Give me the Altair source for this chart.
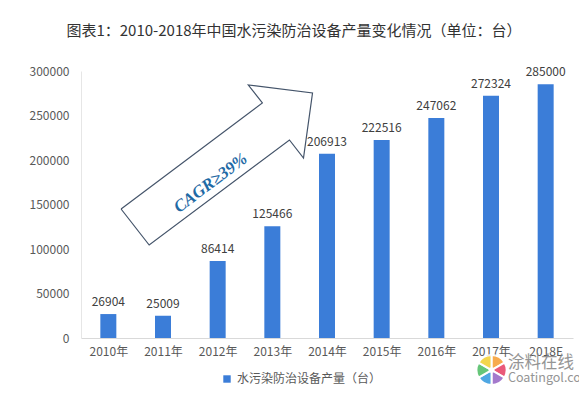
import altair as alt
import pandas as pd

years = ["2010年", "2011年", "2012年", "2013年", "2014年", "2015年", "2016年", "2017年", "2018E"]
values = [26904, 25009, 86414, 125466, 206913, 222516, 247062, 272324, 285000]
series_name = "水污染防治设备产量（台）"

# arrow outline in (category-position, value) units
arrow_u = [0.733, 1.247, 3.813, 4.07, 4.235, 3.061, 3.318, 0.733]
arrow_v = [144944, 104494, 222472, 202247, 275281, 284270, 264045, 144944]

# watermark pinwheel petals
petal_colors = ["#f7a23b", "#e8486b", "#9b6bc7", "#3d9ee0", "#56c06b", "#f3d23a"]

df = pd.DataFrame({"year": years, "pos": [i + 0.5 for i in range(len(years))],
                   "value": values, "series": [series_name] * len(years)})
arrow_df = pd.DataFrame({"u": arrow_u, "v": arrow_v, "order": list(range(len(arrow_u)))})

W, H = 492, 267
FONT = "Noto Sans CJK SC"
label_expr = "[" + ",".join("'%s'" % y for y in years) + "][floor(datum.value)]"

xs = alt.Scale(domain=[0, 9], nice=False, zero=False, padding=0)
ys = alt.Scale(domain=[0, 300000], nice=False, padding=0)

bars = alt.Chart(df).mark_bar(size=16).encode(
    x=alt.X("pos:Q", scale=xs, title=None,
            axis=alt.Axis(values=[i + 0.5 for i in range(len(years))], labelExpr=label_expr,
                          labelAngle=0, labelFontSize=12, labelColor="#595959", ticks=False, grid=False,
                          domainColor="#d9d9d9", labelPadding=8, labelFont=FONT)),
    y=alt.Y("value:Q", title=None, scale=ys,
            axis=alt.Axis(values=[0, 50000, 100000, 150000, 200000, 250000, 300000], grid=False, ticks=False,
                          domain=True, domainColor="#e6e6e6", labelFontSize=12, labelColor="#595959",
                          labelPadding=12, format="d", labelFont=FONT)),
    color=alt.Color("series:N", scale=alt.Scale(range=["#3b7dd8"]),
                    legend=alt.Legend(title=None, orient="none", legendX=140, legendY=302,
                                      symbolType="square", symbolSize=55, labelFontSize=12,
                                      labelColor="#595959", labelFont=FONT)),
)
labels = alt.Chart(df).mark_text(dy=-12, fontSize=12, color="#404040", font=FONT).encode(
    x=alt.X("pos:Q", scale=xs), y=alt.Y("value:Q", scale=ys), text="value:Q")

arrow = alt.Chart(arrow_df).mark_line(color="#44546a", strokeWidth=1.2).encode(
    x=alt.X("u:Q", scale=xs), y=alt.Y("v:Q", scale=ys), order="order:Q")

cagr = alt.Chart(pd.DataFrame({"u": [2.37], "v": [174000], "t": ["CAGR≥39%"]})).mark_text(
    angle=323, fontSize=17, fontWeight="bold", fontStyle="italic", font="Liberation Serif",
    color="#1f6aa5").encode(
    x=alt.X("u:Q", scale=xs), y=alt.Y("v:Q", scale=ys), text="t:N")

wm1 = alt.Chart(pd.DataFrame({"u": [7.81], "v": [-28000], "t": ["涂料在线"]})).mark_text(
    color="#8a8a8a", font=FONT, fontSize=16.5, align="left", opacity=0.9).encode(
    x=alt.X("u:Q", scale=xs), y=alt.Y("v:Q", scale=ys), text="t:N")
wm2 = alt.Chart(pd.DataFrame({"u": [7.81], "v": [-45000], "t": ["Coatingol.com"]})).mark_text(
    color="#8a8a8a", font=FONT, fontSize=12.5, align="left", opacity=0.9).encode(
    x=alt.X("u:Q", scale=xs), y=alt.Y("v:Q", scale=ys), text="t:N")

petals = pd.DataFrame({"u": [7.51] * 6, "v": [-36000] * 6, "k": list(range(6)), "w": [1] * 6,
                       "c": petal_colors})
pin = alt.Chart(petals).mark_arc(radius=15, innerRadius=2, stroke="white", strokeWidth=2, opacity=0.9).encode(
    x=alt.X("u:Q", scale=xs), y=alt.Y("v:Q", scale=ys),
    theta=alt.Theta("w:Q", stack=True), order="k:Q",
    fill=alt.Fill("c:N", scale=None, legend=None))

chart = alt.layer(bars, labels, arrow, cagr, pin, wm1, wm2).properties(
    width=W, height=H,
    title=alt.Title("图表1：2010-2018年中国水污染防治设备产量变化情况（单位：台）", fontSize=15,
                    fontWeight="normal", color="#333333", font=FONT, offset=26, dx=-33),
    padding={"left": 73, "top": 63, "right": 6, "bottom": 50},
    autosize=alt.AutoSizeParams(type="none"),
).configure_view(stroke=None)

chart.save("out.html", embed_options={"renderer": "svg", "actions": False})
